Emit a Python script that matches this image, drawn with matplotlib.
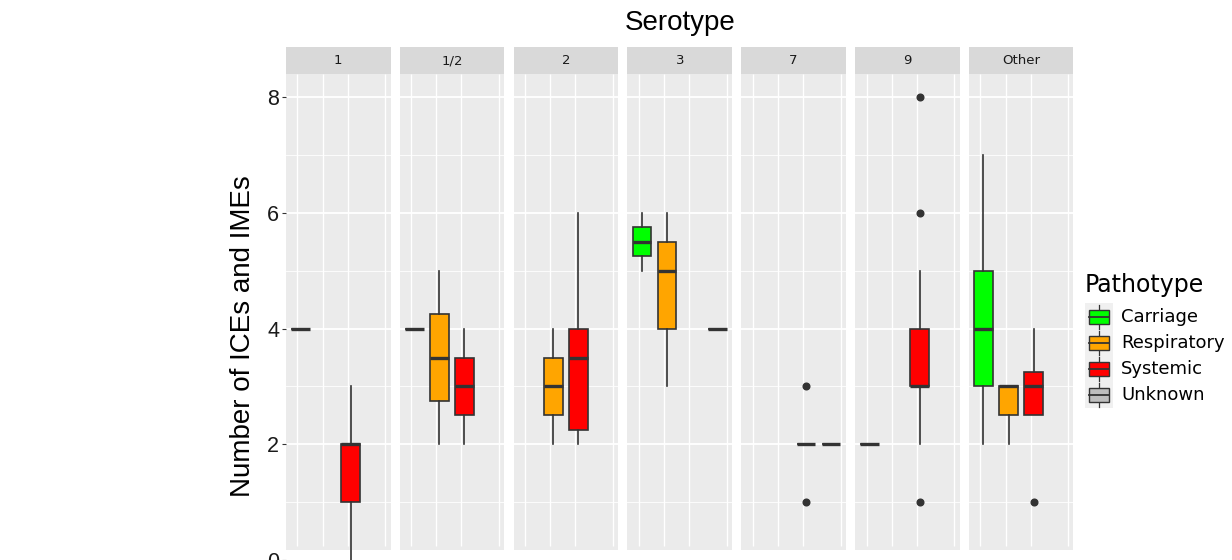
import matplotlib
matplotlib.use("Agg")
import matplotlib.pyplot as plt
from matplotlib.patches import Rectangle
import matplotlib.transforms as mtransforms

# ---------------- data ----------------
serotypes = ["1", "1/2", "2", "3", "7", "9", "Other"]
pathotypes = ["Carriage", "Respiratory", "Systemic", "Unknown"]
path_colors = ["#00FF00", "#FFA500", "#FF0000", "#BEBEBE"]

# per serotype: list of (pathotype_index, q1, median, q3, whisker_low, whisker_high, fliers)
stats_1 = [(0, 4, 4, 4, 4, 4, []), (2, 1, 2, 2, 0, 3, [])]
stats_12 = [(0, 4, 4, 4, 4, 4, []), (1, 2.75, 3.5, 4.25, 2, 5, []), (2, 2.5, 3, 3.5, 2, 4, [])]
stats_2 = [(1, 2.5, 3, 3.5, 2, 4, []), (2, 2.25, 3.5, 4, 2, 6, [])]
stats_3 = [(0, 5.25, 5.5, 5.75, 5, 6, []), (1, 4, 5, 5.5, 3, 6, []), (3, 4, 4, 4, 4, 4, [])]
stats_7 = [(2, 2, 2, 2, 2, 2, [1, 3]), (3, 2, 2, 2, 2, 2, [])]
stats_9 = [(0, 2, 2, 2, 2, 2, []), (2, 3, 3, 4, 2, 5, [1, 6, 8])]
stats_other = [(0, 3, 4, 5, 2, 7, []), (1, 2.5, 3, 3, 2, 3, []), (2, 2.5, 3, 3.25, 2.5, 4, [1])]
all_stats = [stats_1, stats_12, stats_2, stats_3, stats_7, stats_9, stats_other]

y_ticks = [0, 2, 4, 6, 8]

# ---------------- layout ----------------
W, H = 1232, 560
fig = plt.figure(figsize=(W / 100, H / 100), dpi=100)

TITLE_FONT = "Liberation Sans"
OTHER_FONT = "DejaVu Sans"

panel_left0 = 286
panel_step = 113.83
panel_w = 104.5
panel_top = 74
strip_h = 27
ymax = 8.4
dodge = 0.12
edge = "#333333"

for i, (sero, st) in enumerate(zip(serotypes, all_stats)):
    left = panel_left0 + panel_step * i
    ax = fig.add_axes([left / W, 0, panel_w / W, (H - panel_top) / H])
    ax.set_facecolor("none")
    ax.set_xlim(-0.456, 3.71)
    ax.set_ylim(0, ymax)
    for s in ax.spines.values():
        s.set_visible(False)

    trans = mtransforms.blended_transform_factory(ax.transAxes, ax.transData)
    ax.add_patch(Rectangle((0, 0.17), 1, ymax - 0.17, transform=trans,
                           facecolor="#EBEBEB", edgecolor="none", zorder=0))

    # grid
    ax.set_yticks(y_ticks)
    ax.set_yticks([1, 3, 5, 7], minor=True)
    ax.set_axisbelow(True)
    ax.yaxis.grid(True, which="major", color="white", lw=1.3, zorder=0.5)
    ax.yaxis.grid(True, which="minor", color="white", lw=0.6, zorder=0.5)
    ax.vlines([0, 1, 2, 3.5], 0.25, ymax, colors="white", lw=1.0, zorder=0.6)
    ax.set_xticks([])

    bstats = []
    positions = []
    colors = []
    for (pi, q1, med, q3, wlo, whi, fl) in st:
        bstats.append(dict(med=med, q1=q1, q3=q3, whislo=wlo, whishi=whi, fliers=fl))
        positions.append(pi + dodge)
        colors.append(path_colors[pi])
    bp = ax.bxp(bstats, positions=positions, widths=0.75, patch_artist=True,
                showcaps=False, showfliers=True, manage_ticks=False,
                boxprops=dict(edgecolor=edge, linewidth=1.2),
                medianprops=dict(color=edge, linewidth=2.4, solid_capstyle="butt"),
                whiskerprops=dict(color=edge, linewidth=1.2),
                flierprops=dict(marker="o", markerfacecolor=edge, markeredgecolor=edge,
                                markersize=4.8, linestyle="none"))
    for patch, c in zip(bp["boxes"], colors):
        patch.set_facecolor(c)
        patch.set_zorder(2)
    for line in bp["medians"]:
        line.set_zorder(3)
    for line in bp["whiskers"]:
        line.set_clip_on(False)

    if i == 0:
        ax.tick_params(axis="y", which="major", length=3, width=0.8, color=edge,
                       labelsize=15.5, labelcolor="#1a1a1a", pad=2)
        ax.tick_params(axis="y", which="minor", length=0)
        for lab in ax.get_yticklabels():
            lab.set_fontfamily(TITLE_FONT)
    else:
        ax.tick_params(axis="y", which="both", length=0, labelleft=False)

    # strip
    sh = strip_h / (H - panel_top)
    ax.add_patch(Rectangle((0, 1), 1, sh, transform=ax.transAxes, facecolor="#D9D9D9",
                           edgecolor="none", clip_on=False))
    ax.text(0.5, 1 + sh / 2, sero, transform=ax.transAxes, ha="center", va="center",
            fontsize=9.5, color="#1a1a1a", family=OTHER_FONT)

# title and y label
fig.text(680 / W, 1 - 23 / H, "Serotype", ha="center", va="center",
         fontsize=20, family=TITLE_FONT, color="black")
fig.text(243 / W, 1 - 336 / H, "Number of ICEs and IMEs", ha="center", va="center",
         rotation=90, fontsize=20, family=TITLE_FONT, color="black")

# legend (manual, pixel coordinates)
lax = fig.add_axes([0, 0, 1, 1])
lax.set_xlim(0, W)
lax.set_ylim(H, 0)
lax.axis("off")
lax.text(1085, 285, "Pathotype", ha="left", va="center", fontsize=17,
         family=OTHER_FONT, color="black")
row_y = [316.5, 342.5, 368.5, 395]
lax.add_patch(Rectangle((1085, 303), 28, 105, facecolor="#F0F0F0", edgecolor="none"))
for name, c, yc in zip(pathotypes, path_colors, row_y):
    lax.plot([1099, 1099], [yc - 12, yc + 12], color=edge, lw=0.9)
    lax.add_patch(Rectangle((1089, yc - 7), 20, 14, facecolor=c, edgecolor=edge, lw=1.0,
                            zorder=3))
    lax.plot([1089, 1109], [yc, yc], color=edge, lw=1.3, zorder=4)
    lax.text(1121, yc, name, ha="left", va="center", fontsize=13,
             family=OTHER_FONT, color="black")

fig.savefig("out.png", dpi=100)
